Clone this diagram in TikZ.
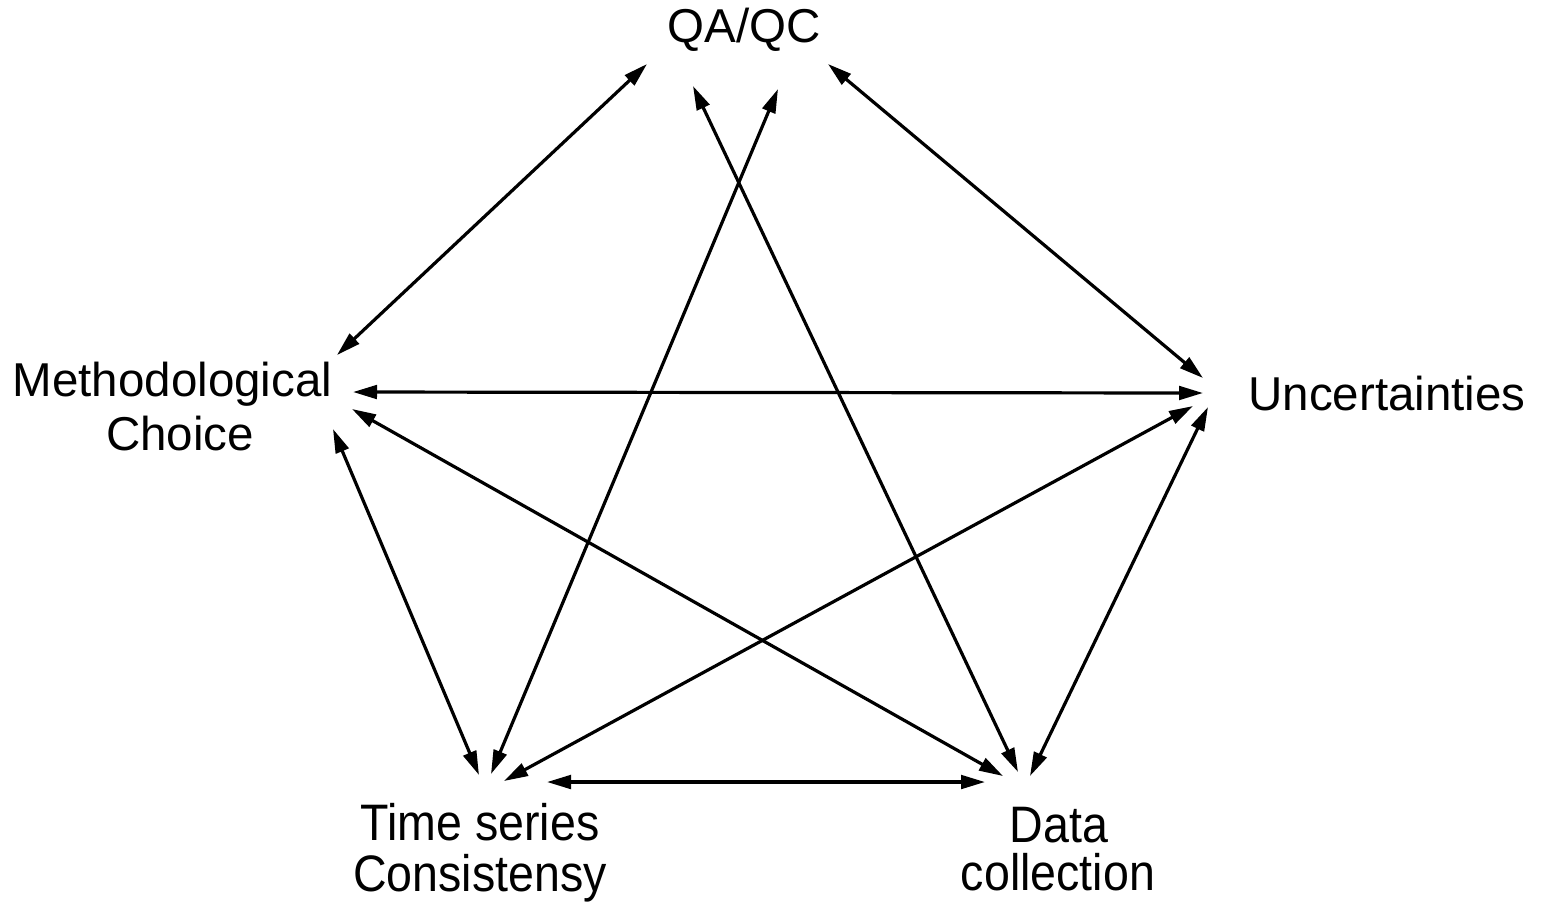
\documentclass[tikz,border=0pt]{standalone}
\usepackage{fontspec}
\setmainfont{Liberation Sans}
\usetikzlibrary{arrows.meta}
\begin{document}
\begin{tikzpicture}[x=0.5pt,y=-0.5pt,
  lbl/.style={inner sep=0pt,align=center,font=\fontsize{23.75pt}{27pt}\selectfont},
  lblb/.style={inner sep=0pt,align=center,yscale=1.08,xscale=0.98,font=\fontsize{23.75pt}{23pt}\selectfont},
  link/.style={line width=1.6pt,{Triangle[length=12pt,width=6.8pt]}-{Triangle[length=12pt,width=6.8pt]}}]
\useasboundingbox (0,0) rectangle (1546,902);
% labels
\node[lbl,anchor=base] (qa) at (744,42) {QA/QC};
\node[lbl,anchor=base] (unc) at (1387,410) {Uncertainties};
\node[lbl,anchor=base] (meth1) at (172.5,396) {Methodological};
\node[lbl,anchor=base] (meth2) at (180,450) {Choice};
\node[lblb,anchor=base] (ts1) at (480,840) {Time series};
\node[lblb,anchor=base] (ts2) at (480,891) {Consistensy};
\node[lblb,anchor=base] (dc1) at (1059,842) {Data};
\node[lblb,anchor=base] (dc2) at (1058,890) {collection};
% connector ends
\coordinate (qaL) at (647,64);
\coordinate (qaR) at (828,64);
\coordinate (qaD) at (693,86);
\coordinate (qaT) at (778,89);
\coordinate (mU) at (353,392);
\coordinate (mD) at (352,409);
\coordinate (mT) at (333,429);
\coordinate (mQ) at (337,355);
\coordinate (uQ) at (1203,378);
\coordinate (uM) at (1203,393);
\coordinate (uT) at (1193,406);
\coordinate (uD) at (1208,407);
\coordinate (tM) at (479,775);
\coordinate (tQ) at (491,774);
\coordinate (tU) at (504,781);
\coordinate (tD) at (547,782);
\coordinate (dT) at (985,782);
\coordinate (dM) at (1003,776);
\coordinate (dQ) at (1018,772);
\coordinate (dU) at (1030,776);
% connectors
\draw[link] (qaL) -- (mQ);
\draw[link] (qaR) -- (uQ);
\draw[link] (qaD) -- (dQ);
\draw[link] (qaT) -- (tQ);
\draw[link] (mU) -- (uM);
\draw[link] (mD) -- (dM);
\draw[link] (mT) -- (tM);
\draw[link] (uT) -- (tU);
\draw[link] (uD) -- (dU);
\draw[link] (tD) -- (dT);
\end{tikzpicture}
\end{document}
